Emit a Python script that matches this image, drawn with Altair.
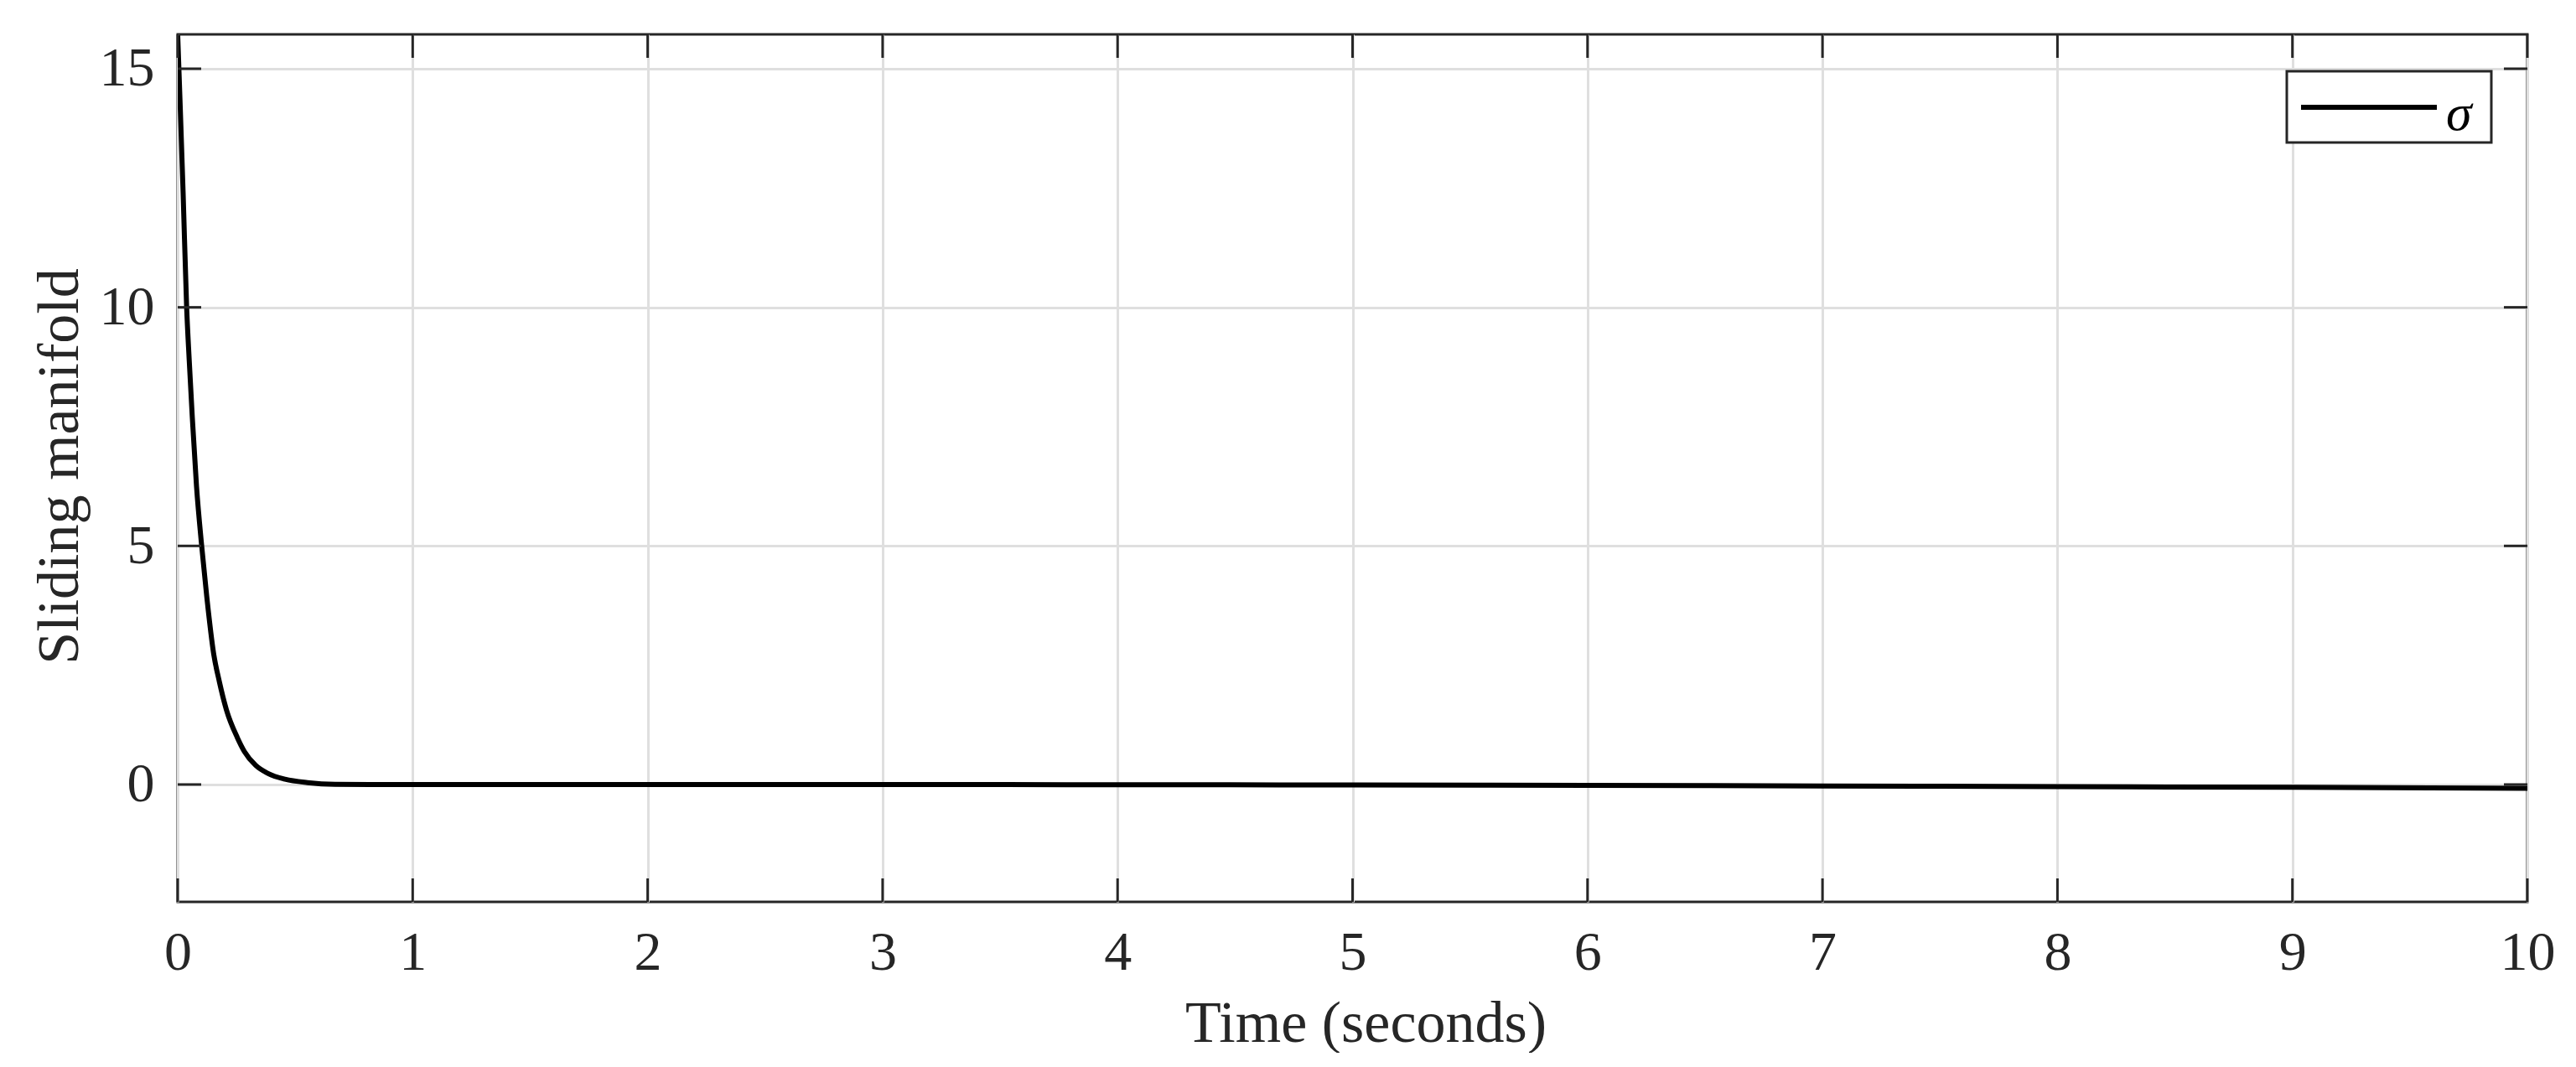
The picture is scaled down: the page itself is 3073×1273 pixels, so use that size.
import altair as alt
import pandas as pd

# ---- data ----
time_s = [0, 0.011, 0.023, 0.038, 0.049, 0.062, 0.08, 0.102, 0.124, 0.153,
          0.177, 0.207, 0.254, 0.284, 0.332, 0.385, 0.457, 0.552, 0.67, 0.9,
          1.2, 2, 3, 4, 5, 6, 7, 8, 9, 10]
sigma = [15.7, 14.16, 12.4, 10.0, 8.89, 7.7, 6.25, 5.0, 3.92, 2.74,
         2.16, 1.57, 0.98, 0.69, 0.40, 0.23, 0.11, 0.04, 0.005, 0.0,
         0.0, 0.0, 0.0, -0.005, -0.01, -0.02, -0.03, -0.045, -0.06, -0.08]
x_ticks = [0, 1, 2, 3, 4, 5, 6, 7, 8, 9, 10]
y_ticks = [0, 5, 10, 15]
legend_label = ["σ"]

W, H = 2803, 1035
FONT = "Liberation Serif"
INK = "#262626"
GRID = "#dfdfdf"
TICK = 28

df = pd.DataFrame({"t": time_s, "s": sigma})
xt = pd.DataFrame({"t": x_ticks})
yt = pd.DataFrame({"s": y_ticks})
lg = pd.DataFrame({"label": legend_label})

xscale = alt.Scale(domain=[0, 10], nice=False, zero=False)
yscale = alt.Scale(domain=[-2.46, 15.72], nice=False, zero=False)

xaxis = alt.Axis(values=x_ticks, grid=True, gridColor=GRID, gridWidth=3,
                 ticks=False, tickSize=0, domain=False, format="d",
                 labelFont=FONT, labelFontSize=66, labelColor=INK,
                 labelPadding=28, labelFlush=False,
                 title="Time (seconds)", titleFont=FONT, titleFontSize=70,
                 titleColor=INK, titleFontWeight="normal",
                 titleX=1417, titleY=166, titleBaseline="alphabetic",
                 titleAlign="center")
yaxis = alt.Axis(values=y_ticks, grid=True, gridColor=GRID, gridWidth=3,
                 ticks=False, tickSize=0, domain=False, format="d",
                 labelFont=FONT, labelFontSize=66, labelColor=INK,
                 labelPadding=28, labelFlush=False, labelBaseline="middle",
                 title="Sliding manifold", titleFont=FONT, titleFontSize=70,
                 titleColor=INK, titleFontWeight="normal",
                 titleX=-120, titleY=515, titleAngle=-90,
                 titleBaseline="alphabetic", titleAlign="center")

X = alt.X("t:Q", scale=xscale, axis=xaxis, title="Time (seconds)")
Y = alt.Y("s:Q", scale=yscale, axis=yaxis, title="Sliding manifold")

line = alt.Chart(df).mark_line(color="black", strokeWidth=6, clip=True,
                               interpolate="monotone").encode(x=X, y=Y)

tick_style = dict(color=INK, strokeWidth=3)
bottom_ticks = alt.Chart(xt).mark_rule(**tick_style).encode(
    x=X, y=alt.value(H), y2=alt.value(H - TICK))
top_ticks = alt.Chart(xt).mark_rule(**tick_style).encode(
    x=X, y=alt.value(0), y2=alt.value(TICK))
left_ticks = alt.Chart(yt).mark_rule(**tick_style).encode(
    y=Y, x=alt.value(0), x2=alt.value(TICK))
right_ticks = alt.Chart(yt).mark_rule(**tick_style).encode(
    y=Y, x=alt.value(W - TICK), x2=alt.value(W))

legend_box = alt.Chart(lg).mark_rect(fill="white", stroke=INK, strokeWidth=3).encode(
    x=alt.value(2516), x2=alt.value(2760), y=alt.value(44), y2=alt.value(129))
legend_line = alt.Chart(lg).mark_rule(color="black", strokeWidth=6).encode(
    x=alt.value(2533), x2=alt.value(2695), y=alt.value(87))
legend_text = alt.Chart(lg).mark_text(font=FONT, fontSize=62, fontStyle="italic",
                                      align="left", baseline="alphabetic",
                                      color="black").encode(
    x=alt.value(2706), y=alt.value(114), text="label:N")

chart = alt.layer(line, bottom_ticks, top_ticks, left_ticks, right_ticks,
                  legend_box, legend_line, legend_text).properties(
    width=W, height=H,
    autosize=alt.AutoSizeParams(type="none"),
    padding={"left": 204, "top": 33, "right": 40, "bottom": 180},
    background="white",
).configure_view(stroke=INK, strokeWidth=3)

chart.save("out.html", embed_options={"renderer": "svg", "actions": False})
